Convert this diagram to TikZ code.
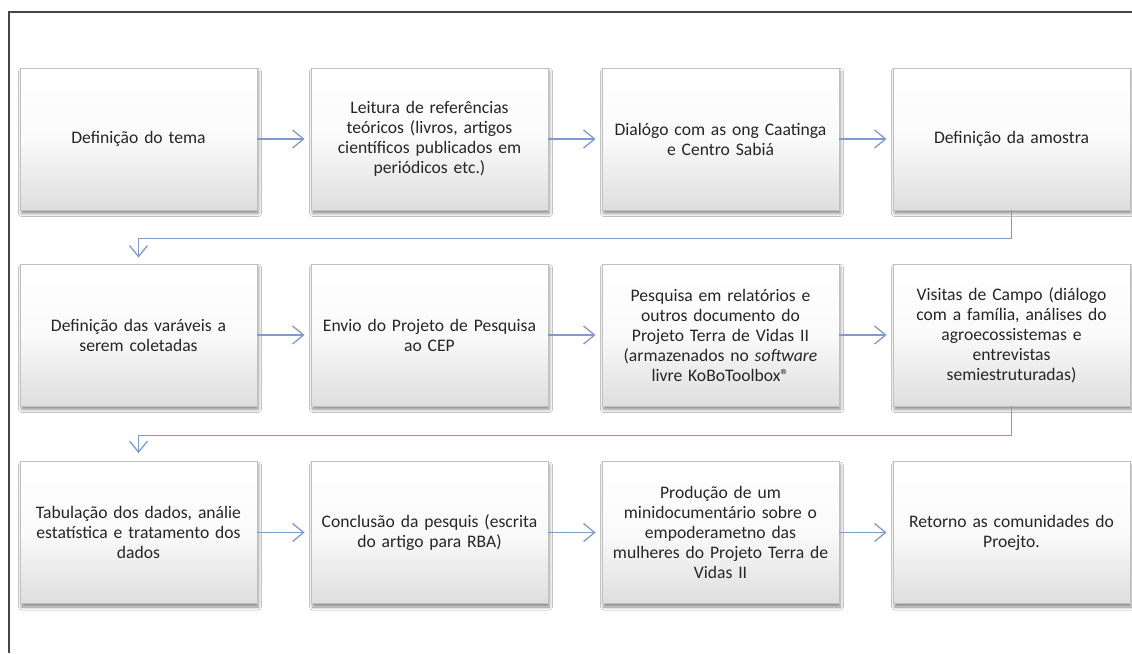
\documentclass[tikz,border=0pt]{standalone}
\usepackage{fontspec}
\setmainfont{Carlito}
\usetikzlibrary{arrows.meta,shadows.blur}
\definecolor{arrowblue}{RGB}{126,155,208}
\definecolor{boxborder}{RGB}{192,192,192}
\definecolor{boxbottom}{RGB}{222,222,222}
\definecolor{framecol}{RGB}{70,70,70}
\begin{document}
\begin{tikzpicture}[x=1pt,y=-1pt,
  stepbox/.style={draw=boxborder, line width=0.8pt, top color=white, bottom color=boxbottom,
    middle color=white!85!boxbottom,
    minimum width=237pt, minimum height=142pt, text width=232pt, align=center, inner sep=0pt,
    font=\fontsize{17.6}{20}\selectfont, text=black!85,
    blur shadow={shadow xshift=1.5pt, shadow yshift=-3.5pt, shadow blur radius=3pt, shadow opacity=45}},
  flow/.style={draw=arrowblue, line width=1.3pt, -{Straight Barb[length=11pt,width=18pt]}, shorten >=6pt},
  framelines/.style={draw=framecol, line width=1.2pt}]
\useasboundingbox (0,0) rectangle (1132,653);
\fill[white] (0,0) rectangle (1132,653);
\draw[framelines] (1132,12) -- (9,12) -- (9,653);

\node[stepbox] (a1) at (138.5,139) {Definição do tema};
\node[stepbox] (a2) at (429.5,139) {Leitura de referências\\teóricos (livros, artigos\\científicos publicados em\\periódicos etc.)};
\node[stepbox] (a3) at (720.5,139) {Dialógo com as ong Caatinga\\e Centro Sabiá};
\node[stepbox] (a4) at (1011.5,139) {Definição da amostra};

\node[stepbox] (b1) at (138.5,335) {Definição das varáveis a\\serem coletadas};
\node[stepbox] (b2) at (429.5,335) {Envio do Projeto de Pesquisa\\ao CEP};
\node[stepbox] (b3) at (720.5,335) {Pesquisa em relatórios e\\outros documento do\\Projeto Terra de Vidas II\\(armazenados no \textit{software}\\livre KoBoToolbox®};
\node[stepbox] (b4) at (1011.5,335) {Visitas de Campo (diálogo\\com a família, análises do\\agroecossistemas e\\entrevistas\\semiestruturadas)};

\node[stepbox] (c1) at (138.5,532.5) {Tabulação dos dados, análie\\estatística e tratamento dos\\dados};
\node[stepbox] (c2) at (429.5,532.5) {Conclusão da pesquis (escrita\\do artigo para RBA)};
\node[stepbox] (c3) at (720.5,532.5) {Produção de um\\minidocumentário sobre o\\empoderametno das\\mulheres do Projeto Terra de\\Vidas II};
\node[stepbox] (c4) at (1011.5,532.5) {Retorno as comunidades do\\Proejto.};

\draw[flow] (a1.east) -- (a2.west);
\draw[flow] (a2.east) -- (a3.west);
\draw[flow] (a3.east) -- (a4.west);
\draw[flow] (a4.south) -- ++(0,28) -| (b1.north);
\draw[flow] (b1.east) -- (b2.west);
\draw[flow] (b2.east) -- (b3.west);
\draw[flow] (b3.east) -- (b4.west);
\draw[flow, shorten >=8pt] (b4.south) -- ++(0,29) -| (c1.north);
\draw[flow] (c1.east) -- (c2.west);
\draw[flow] (c2.east) -- (c3.west);
\draw[flow] (c3.east) -- (c4.west);
\end{tikzpicture}
\end{document}
